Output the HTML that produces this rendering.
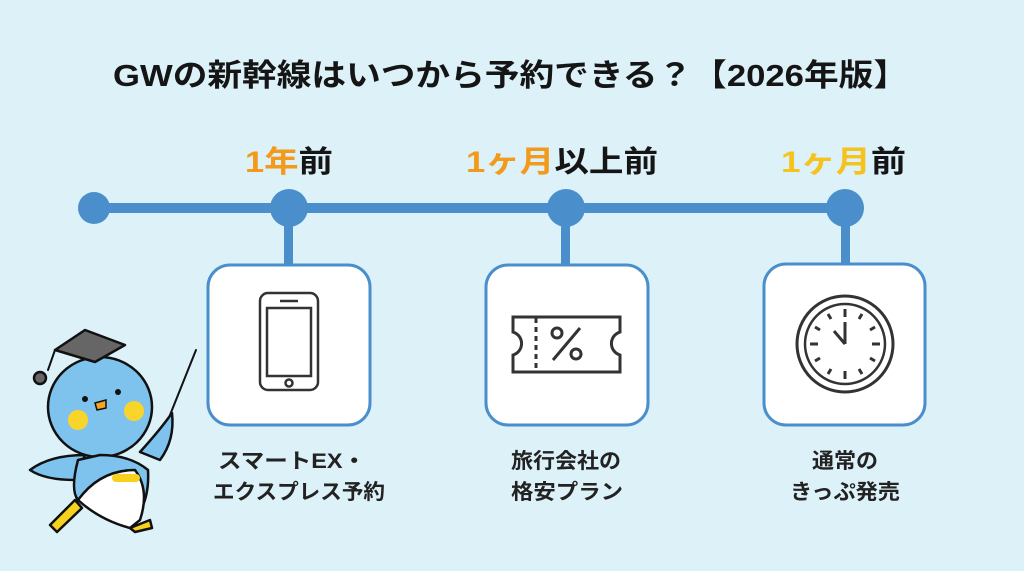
<!DOCTYPE html>
<html><head><meta charset="utf-8"><style>
html,body{margin:0;padding:0;background:#dcf1f8;}
svg{display:block}
text{font-family:"Liberation Sans","Noto Sans CJK JP",sans-serif;font-weight:bold;}
</style></head><body>
<svg width="1024" height="571" viewBox="0 0 1024 571" xmlns="http://www.w3.org/2000/svg">
<rect width="1024" height="571" fill="#dcf1f8"/>
<text x="113" y="86" font-size="31" fill="#151515" textLength="795" lengthAdjust="spacingAndGlyphs">GWの新幹線はいつから予約できる？【2026年版】</text>

<text x="245" y="172" font-size="30" textLength="88" lengthAdjust="spacingAndGlyphs"><tspan fill="#f39a1c">1年</tspan><tspan fill="#151515">前</tspan></text>
<text x="466" y="172" font-size="30" textLength="192" lengthAdjust="spacingAndGlyphs"><tspan fill="#f39a1c">1ヶ月</tspan><tspan fill="#151515">以上前</tspan></text>
<text x="781" y="172" font-size="30" textLength="125" lengthAdjust="spacingAndGlyphs"><tspan fill="#f6c21d">1ヶ月</tspan><tspan fill="#151515">前</tspan></text>

<g fill="#4a8fcc" stroke="none">
<rect x="92" y="203" width="753" height="10"/>
<circle cx="94" cy="208" r="16"/>
<circle cx="289" cy="208" r="19"/>
<circle cx="566" cy="208" r="19"/>
<circle cx="845" cy="208" r="19"/>
<rect x="284" y="208" width="9" height="58"/>
<rect x="561" y="208" width="9" height="58"/>
<rect x="841" y="208" width="9" height="58"/>
</g>
<g fill="#fff" stroke="#4a8fcc" stroke-width="3">
<rect x="208" y="265" width="162" height="160" rx="22"/>
<rect x="486" y="265" width="162" height="160" rx="22"/>
<rect x="764" y="264" width="161" height="161" rx="22"/>
</g>
<g fill="none" stroke="#333" stroke-width="2.5">
<rect x="260" y="293" width="58" height="97" rx="8"/>
<rect x="267" y="308" width="44" height="68"/>
<line x1="280" y1="301" x2="298" y2="301"/>
<circle cx="289" cy="383" r="3.5"/>
</g>
<g fill="none" stroke="#333" stroke-width="3">
<path d="M513 317 H620 V332 A12 12 0 0 0 620 355 V372 H513 V355 A12 12 0 0 0 513 332 Z"/>
<line x1="536" y1="318" x2="536" y2="372" stroke-dasharray="5 4"/>
<circle cx="557" cy="333" r="5"/><circle cx="576" cy="354" r="5"/>
<line x1="553" y1="360" x2="580" y2="328"/>
</g>
<g fill="none" stroke="#333">
<circle cx="845" cy="344" r="48" stroke-width="3"/>
<circle cx="845" cy="344" r="40" stroke-width="2.5"/>
<g stroke-width="3">
<line x1="845" y1="309" x2="845" y2="317"/><line x1="845" y1="371" x2="845" y2="379"/>
<line x1="810" y1="344" x2="818" y2="344"/><line x1="872" y1="344" x2="880" y2="344"/>
<line x1="862" y1="314" x2="859" y2="319"/><line x1="875" y1="327" x2="870" y2="330"/>
<line x1="875" y1="361" x2="870" y2="358"/><line x1="862" y1="374" x2="859" y2="369"/>
<line x1="828" y1="374" x2="831" y2="369"/><line x1="815" y1="361" x2="820" y2="358"/>
<line x1="815" y1="327" x2="820" y2="330"/><line x1="828" y1="314" x2="831" y2="319"/>
<line x1="845" y1="344" x2="845" y2="322"/><line x1="845" y1="344" x2="834" y2="331"/>
</g></g>

<g font-size="21" fill="#222">
<text x="218" y="468" textLength="148" lengthAdjust="spacingAndGlyphs">スマートEX・</text>
<text x="213" y="499" textLength="172" lengthAdjust="spacingAndGlyphs">エクスプレス予約</text>
<text x="511" y="468" textLength="110" lengthAdjust="spacingAndGlyphs">旅行会社の</text>
<text x="511" y="499" textLength="112" lengthAdjust="spacingAndGlyphs">格安プラン</text>
<text x="812" y="468" textLength="66" lengthAdjust="spacingAndGlyphs">通常の</text>
<text x="790" y="499" textLength="110" lengthAdjust="spacingAndGlyphs">きっぷ発売</text>
</g>

<g stroke="#111" stroke-width="2.5" stroke-linejoin="round" stroke-linecap="round">
<line x1="166" y1="425" x2="196" y2="350" stroke-width="2"/>
<path d="M50 525 L75 500 L82 508 L57 532 Z" fill="#f6d21e"/>
<path d="M30 470 Q50 455 85 455 L75 480 Q45 480 30 470 Z" fill="#7ec3ee"/>
<path d="M140 452 Q160 430 172 413 Q175 440 160 460 Z" fill="#7ec3ee"/>
<ellipse cx="100" cy="407" rx="52" ry="50" fill="#7ec3ee"/>
<path d="M78 460 Q70 490 78 500 L130 525 Q150 505 148 470 Q130 455 100 455 Z" fill="#7ec3ee"/>
<path d="M78 500 Q100 470 135 470 Q150 490 140 520 L130 528 Q100 520 78 500 Z" fill="#fff"/>
<path d="M130 528 L150 520 L152 528 L135 532 Z" fill="#f6d21e"/>
<path d="M55 350 L85 330 L125 345 L95 362 Z" fill="#666"/>
<path d="M55 350 L48 370" fill="none" stroke-width="2"/>
<circle cx="40" cy="378" r="6" fill="#666"/>
</g>
<circle cx="78" cy="420" r="10" fill="#f9d42a"/>
<circle cx="134" cy="411" r="10" fill="#f9d42a"/>
<circle cx="85" cy="399" r="3" fill="#111"/>
<circle cx="118" cy="392" r="3" fill="#111"/>
<path d="M95 403 L106 400 L106 408 L97 410 Z" fill="#f4a623" stroke="#111" stroke-width="1.5"/>
<rect x="112" y="474" width="28" height="8" rx="4" fill="#f6d21e"/>
</svg>
</body></html>
